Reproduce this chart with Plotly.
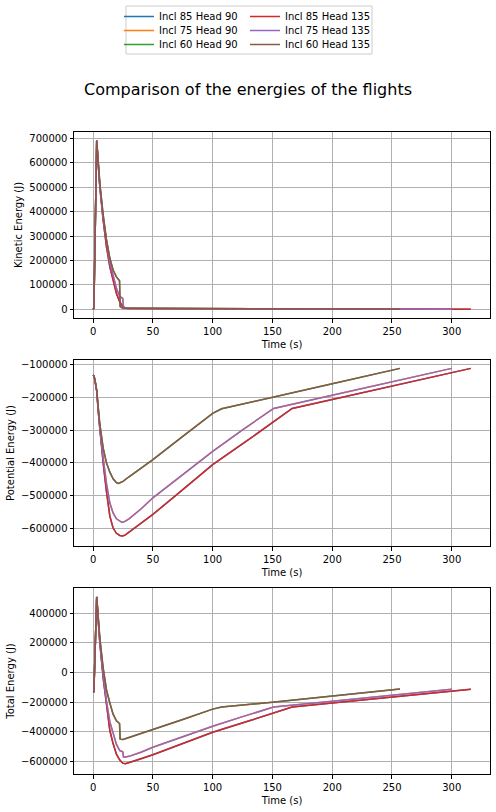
import plotly.graph_objects as go
from plotly.subplots import make_subplots

# ---- data ----
# Incl 85 (both headings lie on top of each other)
t_85 = [0, 0.6, 1.5, 3.0, 4.2, 5.6, 8.4, 11.2, 14.0, 16.7, 19.5, 22.3, 24.8, 27.0, 30.0,
        40.0, 50.0, 75.0, 100.0, 130.0, 166.5, 200.0, 250.0, 316.0]
ke_85 = [0, 5000, 250000, 690000, 597000, 502000, 365000, 256000, 174000, 120000, 65000,
         31000, 12000, 5000, 4000, 3800, 3600, 3200, 2800, 2400, 1900, 1500, 1000, 500]
pe_85 = [-132000, -134000, -148000, -180000, -240000, -300000, -400000, -488000, -562000,
         -598000, -614000, -620500, -622000, -619000, -611000, -584000, -556600, -481000,
         -405000, -329000, -234000, -206700, -165900, -112000]
te_85 = [-132000, -129000, 102000, 510000, 357000, 202000, -35000, -232000, -390000,
         -478000, -549000, -589000, -610000, -614000, -607000, -580200, -553000, -477800,
         -402200, -326600, -232100, -205200, -164900, -111500]

# Incl 75
t_75 = [0, 0.6, 1.5, 3.0, 4.2, 5.6, 8.4, 11.2, 14.0, 16.7, 19.5, 22.3, 24.0, 24.8, 25.4,
        27.0, 30.0, 40.0, 50.0, 75.0, 100.0, 125.0, 151.0, 200.0, 250.0, 300.0]
ke_75 = [0, 5000, 250000, 690000, 600000, 505000, 372000, 270000, 190000, 140000, 86000,
         53000, 47000, 45000, 8000, 4500, 4000, 3800, 3600, 3200, 2800, 2400, 2000, 1500,
         1000, 600]
pe_75 = [-132000, -134000, -147000, -180000, -232000, -295000, -385000, -463000, -522000,
         -552000, -570000, -578000, -580500, -580300, -580000, -577000, -570000, -540000,
         -506000, -435000, -364600, -299000, -234000, -193800, -153000, -112000]
te_75 = [-132000, -129000, 103000, 510000, 368000, 210000, -13000, -193000, -332000,
         -412000, -484000, -525000, -531000, -533000, -568000, -569000, -564000, -536200,
         -502400, -431800, -361800, -296600, -232000, -192300, -152000, -111400]

# Incl 60
t_60 = [0, 0.6, 1.5, 3.0, 4.2, 5.6, 8.4, 11.2, 14.0, 16.7, 19.5, 20.9, 22.1, 22.6, 25.0,
        30.0, 40.0, 50.0, 75.0, 100.0, 107.5, 150.0, 200.0, 256.7]
ke_60 = [0, 5000, 250000, 690000, 610000, 515000, 386000, 283000, 209000, 161000, 133000,
         124000, 117000, 12000, 5000, 4500, 4200, 4000, 3500, 3100, 3000, 2000, 1500, 1000]
pe_60 = [-132000, -134000, -146000, -180000, -228000, -282000, -355000, -400000, -428000,
         -448000, -460000, -462000, -461000, -460500, -456000, -442000, -415000, -390000,
         -319000, -249000, -235000, -201000, -159000, -112000]
te_60 = [-132000, -129000, 104000, 510000, 382000, 233000, 31000, -117000, -205000,
         -280000, -325000, -336000, -343000, -448000, -451000, -437500, -410800, -386000,
         -315500, -245900, -232000, -199000, -157500, -111000]

flights = {
    "Incl 85": (t_85, ke_85, pe_85, te_85),
    "Incl 75": (t_75, ke_75, pe_75, te_75),
    "Incl 60": (t_60, ke_60, pe_60, te_60),
}
headings = ["90", "135"]
colors = {
    ("Incl 85", "90"): "#1f77b4", ("Incl 75", "90"): "#ff7f0e", ("Incl 60", "90"): "#2ca02c",
    ("Incl 85", "135"): "#d62728", ("Incl 75", "135"): "#9467bd", ("Incl 60", "135"): "#8c564b",
}

W, H = 496, 812
FONT = "DejaVu Sans"

fig = make_subplots(rows=3, cols=1)

# one legend per entry so the 2x3 grid can be placed like the matplotlib one
legend_pos = {}
leg_rows = [16.5, 30.5, 44.5]
leg_cols = {"90": 119, "135": 245}
n = 0
for head in headings:
    for k, (incl, (t, ke, pe, te)) in enumerate(flights.items()):
        n += 1
        leg = "legend" if n == 1 else f"legend{n}"
        legend_pos[leg] = (leg_cols[head], leg_rows[k])
        name = f"{incl} Head {head}"
        col = colors[(incl, head)]
        for row, y in enumerate([ke, pe, te], start=1):
            fig.add_trace(
                go.Scatter(x=t, y=y, mode="lines", name=name,
                           line=dict(color=col, width=1.5),
                           legend=leg, showlegend=(row == 1)),
                row=row, col=1
            )

# panel placement in pixels (top, bottom)
panels = [(132, 318), (360, 546), (588, 774)]
x_dom = [74 / W, 490 / W]
y_ranges = [[-35000, 725000], [-652700, -86500], [-683000, 570000]]
y_dticks = [100000, 100000, 200000]
y_titles = ["Kinetic Energy (J)", "Potential Energy (J)", "Total Energy (J)"]

axis_common = dict(
    showline=True, linecolor="black", linewidth=1, mirror=True,
    ticks="outside", ticklen=3.5, tickwidth=0.8, tickcolor="black",
    showgrid=True, gridcolor="#b0b0b0", gridwidth=0.8, zeroline=False,
    automargin=False,
    tickfont=dict(family=FONT, size=10, color="black"),
)

for i, ((top, bot), yr, dt, yt) in enumerate(zip(panels, y_ranges, y_dticks, y_titles), start=1):
    fig.update_xaxes(domain=x_dom, range=[-16, 332], dtick=50, tick0=0,
                     title=dict(text="Time (s)", standoff=5,
                                font=dict(family=FONT, size=10, color="black")),
                     row=i, col=1, **axis_common)
    fig.update_yaxes(domain=[1 - bot / H, 1 - top / H], range=yr, dtick=dt, tick0=0,
                     tickformat="d",
                     title=dict(text=yt, standoff=4,
                                font=dict(family=FONT, size=10, color="black")),
                     row=i, col=1, **axis_common)

legends = {}
for leg, (px, py) in legend_pos.items():
    legends[leg] = dict(
        orientation="v", x=px / W, xanchor="left", y=1 - py / H, yanchor="middle",
        bgcolor="rgba(0,0,0,0)", borderwidth=0, itemwidth=30,
        font=dict(family=FONT, size=10, color="black"),
    )

fig.update_layout(
    template="none",
    width=W, height=H, autosize=False,
    margin=dict(l=0, r=0, t=0, b=0),
    paper_bgcolor="white", plot_bgcolor="white",
    font=dict(family=FONT, size=10, color="black"),
    title=dict(text="Comparison of the energies of the flights",
               x=0.5, xanchor="center", y=1 - 89 / H, yanchor="middle",
               font=dict(family=FONT, size=16, color="black")),
    shapes=[dict(type="rect", xref="paper", yref="paper",
                 x0=126 / W, x1=372 / W, y0=1 - 54 / H, y1=1 - 6 / H,
                 line=dict(color="#cccccc", width=1))],
    **legends,
)

# the page body has a default 8px margin; drop it so the figure sits at the corner
fig.write_html("out.html", config={"displayModeBar": False},
               post_script="document.body.style.margin='0';")
